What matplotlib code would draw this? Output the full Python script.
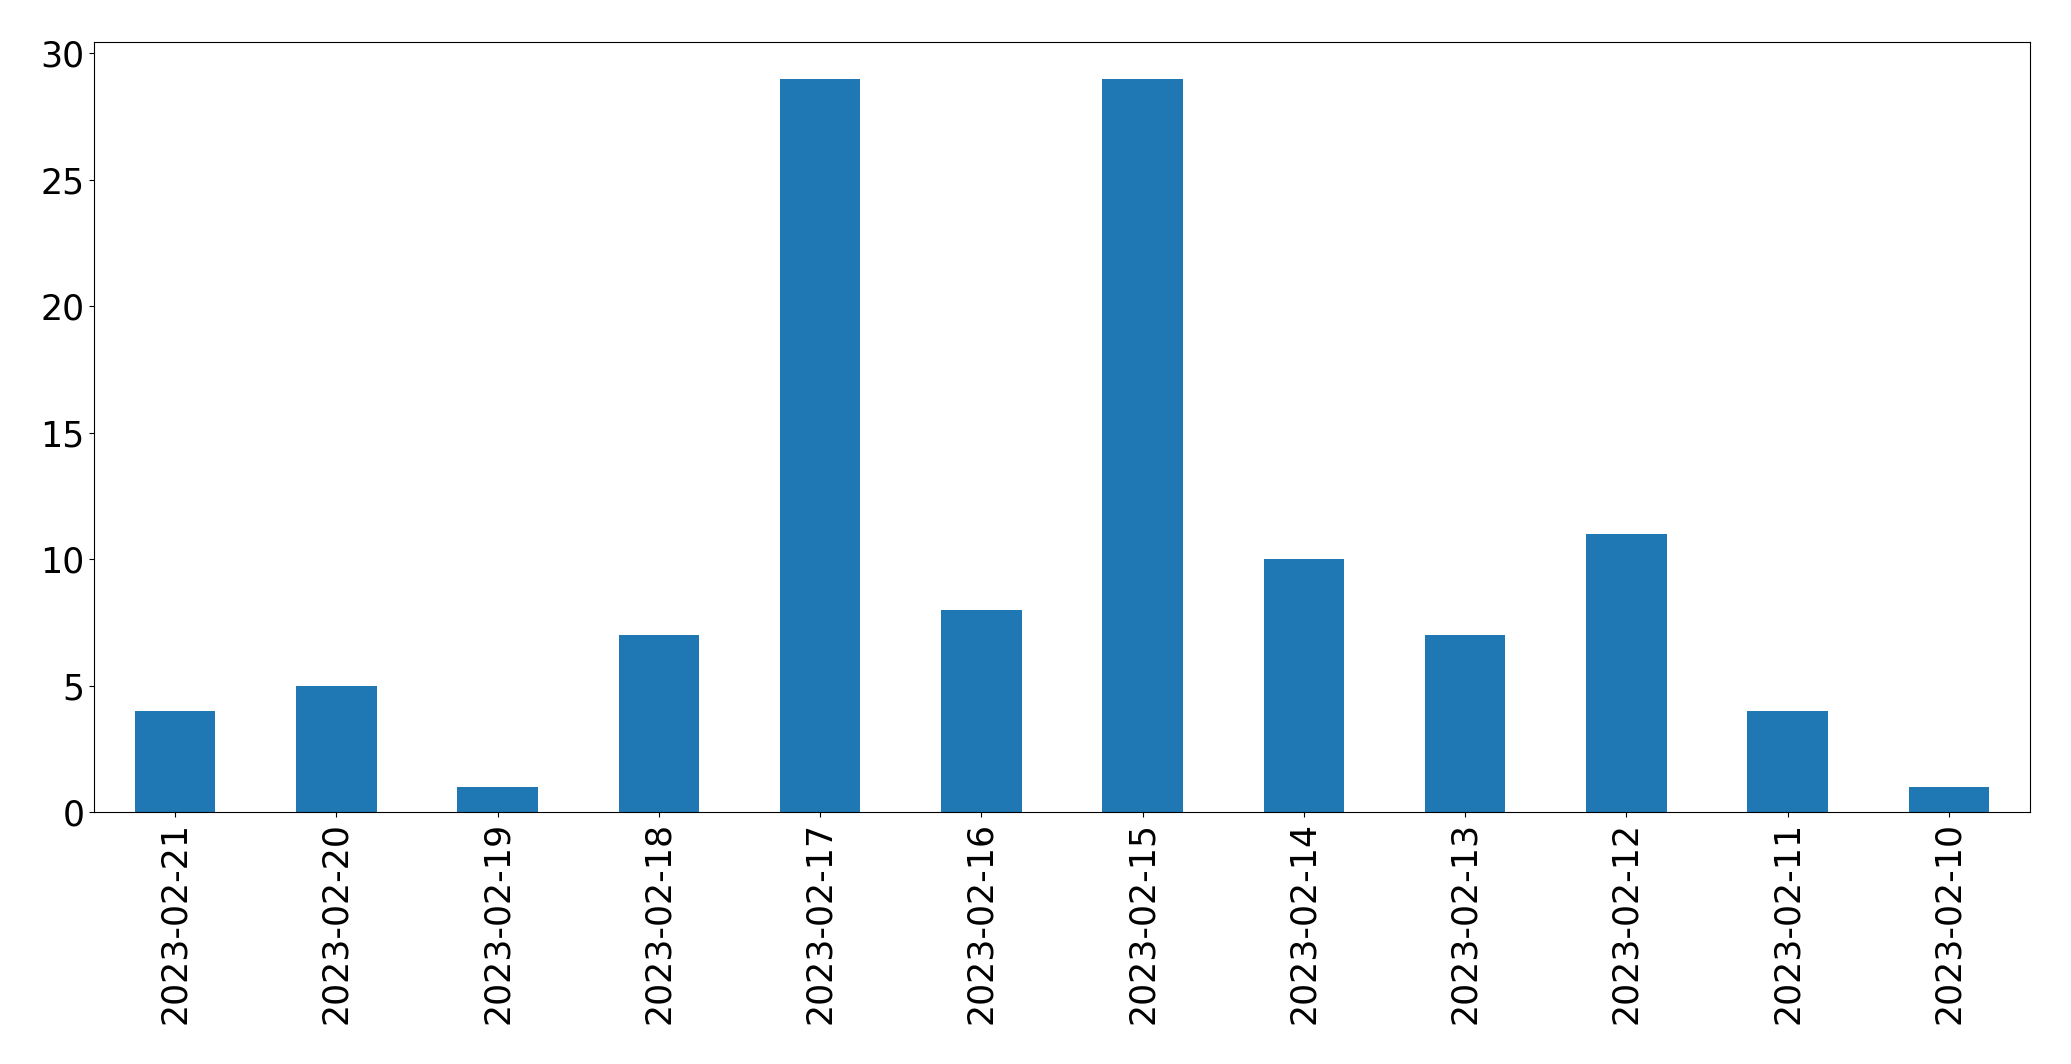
import matplotlib
matplotlib.use('Agg')
import matplotlib.pyplot as plt
import pandas as pd

# data
dates = ['2023-02-21', '2023-02-20', '2023-02-19', '2023-02-18', '2023-02-17', '2023-02-16',
         '2023-02-15', '2023-02-14', '2023-02-13', '2023-02-12', '2023-02-11', '2023-02-10']
counts = [4, 5, 1, 7, 29, 8, 29, 10, 7, 11, 4, 1]

s = pd.Series(counts, index=dates)

fig, ax = plt.subplots(figsize=(20.71, 10.64), dpi=100)
fig.subplots_adjust(left=0.0456, right=0.980, top=0.9605, bottom=0.2368)

s.plot(kind='bar', ax=ax, color='#1f77b4', fontsize=25)
ax.tick_params(axis='both', labelsize=25)

fig.savefig('out.png', dpi=100)
